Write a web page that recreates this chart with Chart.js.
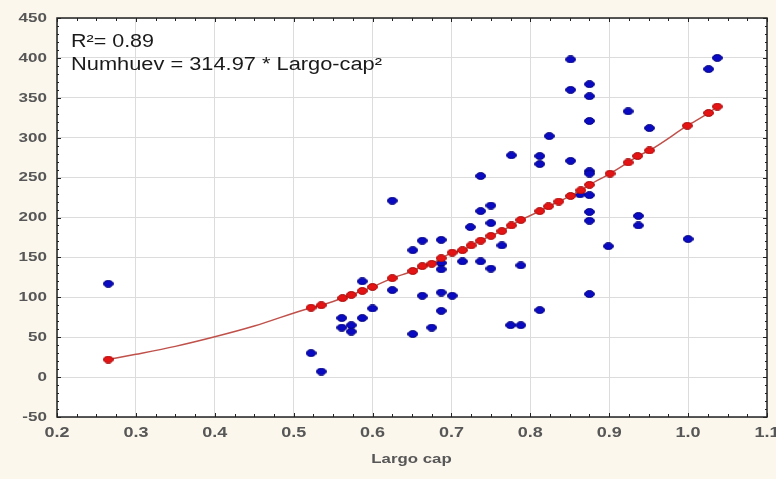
<!DOCTYPE html>
<html><head><meta charset="utf-8">
<script src="https://cdn.jsdelivr.net/npm/chart.js@4/dist/chart.umd.min.js"></script>
<style>html,body{margin:0;padding:0;background:#fbf7ec;}#wrap{width:776px;height:479px;}</style>
</head><body><div id="wrap"><canvas id="c" width="776" height="479"></canvas></div>
<script>
// Observed data (Largo cap vs Numhuev)
const blueX = [0.265,0.522,0.535,0.561,0.561,0.573,0.573,0.587,0.587,0.600,0.625,0.625,0.651,0.651,0.663,0.663,0.675,0.687,0.687,0.687,0.687,0.687,0.701,0.714,0.724,0.737,0.737,0.737,0.750,0.750,0.750,0.764,0.776,0.775,0.788,0.788,0.812,0.812,0.812,0.824,0.851,0.851,0.851,0.863,0.875,0.875,0.875,0.875,0.875,0.875,0.875,0.875,0.875,0.899,0.924,0.937,0.937,0.951,1.000,1.026,1.037];
const blueY = [117,30,7,74,62,65,57,120,74,86,221,109,159,54,171,102,62,172,143,135,106,83,102,145,188,252,208,145,215,193,136,165,278,65,140,65,277,267,84,302,398,360,271,229,367,352,321,258,255,228,207,196,104,164,333,202,190,312,173,386,400];
// Fitted values (red points)
const redX = [0.265,0.522,0.535,0.562,0.573,0.587,0.600,0.625,0.651,0.663,0.675,0.687,0.701,0.714,0.725,0.737,0.750,0.764,0.776,0.788,0.812,0.823,0.836,0.851,0.864,0.875,0.901,0.924,0.936,0.951,0.999,1.026,1.037];
const redY = [22,87,90,99,103,108,113,124,133,139,142,149,156,159,165,171,177,183,190,197,208,214,220,227,234,241,255,269,277,284,315,331,339];
const curveX = [0.265,0.30,0.35,0.40,0.45,0.522];
const curveY = [22,28.5,38.5,50.5,64,87];
const xTicks = [0.2,0.3,0.4,0.5,0.6,0.7,0.8,0.9,1.0,1.1];
const yTicks = [-50,0,50,100,150,200,250,300,350,400,450];
const xTitle = 'Largo cap';
const note1 = 'R²= 0.89';
const note2 = 'Numhuev = 314.97 * Largo-cap²';

function ellipse(fill, stroke, w, h){
  const cv = document.createElement('canvas'); cv.width = w; cv.height = h;
  const g = cv.getContext('2d');
  g.beginPath(); g.ellipse(w/2, h/2, w/2-0.6, h/2-0.6, 0, 0, Math.PI*2);
  g.fillStyle = fill; g.fill();
  g.lineWidth = 1; g.strokeStyle = stroke; g.stroke();
  return cv;
}
const blueDot = ellipse('#0a0ac2', '#06067a', 11, 8);
const redDot = ellipse('#e41414', '#a00a0a', 11, 8);

const pts = (xs, ys) => xs.map((x,i)=>({x, y: ys[i]}));
const curve = pts(curveX, curveY).concat(pts(redX.slice(2), redY.slice(2)));

const FONT = '"Liberation Sans", Arial, sans-serif';
// draw text horizontally stretched by factor sx; align: 'left' | 'right' | 'center'
function stretchText(ctx, txt, x, y, sx, align){
  const w = ctx.measureText(txt).width * sx;
  let x0 = x;
  if (align === 'right') x0 = x - w; else if (align === 'center') x0 = x - w/2;
  ctx.save();
  ctx.translate(x0, y); ctx.scale(sx, 1);
  ctx.textAlign = 'left';
  ctx.fillText(txt, 0, 0);
  ctx.restore();
}

const deco = {
  id: 'deco',
  beforeDraw(chart){
    const {ctx, chartArea: a} = chart;
    ctx.save();
    ctx.fillStyle = '#fbf7ec'; ctx.fillRect(0,0,chart.width,chart.height);
    ctx.fillStyle = '#ffffff'; ctx.fillRect(a.left, a.top, a.right-a.left, a.bottom-a.top);
    ctx.restore();
  },
  afterDraw(chart){
    const {ctx, chartArea: a, scales} = chart;
    const xs = scales.x, ys = scales.y;
    ctx.save();
    ctx.strokeStyle = '#222'; ctx.lineWidth = 1.5;
    ctx.strokeRect(a.left, a.top, a.right-a.left, a.bottom-a.top);
    ctx.lineWidth = 1;
    ctx.beginPath();
    for (let i = 0; i <= 36; i++){
      const v = 0.2 + i*0.025; const px = Math.round(xs.getPixelForValue(v)) + 0.5;
      const len = (i % 4 === 0) ? 4 : 3;
      ctx.moveTo(px, a.bottom); ctx.lineTo(px, a.bottom-len);
      ctx.moveTo(px, a.top); ctx.lineTo(px, a.top+len);
    }
    for (let v = -50; v <= 450; v += 10){
      const py = Math.round(ys.getPixelForValue(v)) + 0.5;
      const len = (v % 50 === 0) ? 4 : 2;
      ctx.moveTo(a.left, py); ctx.lineTo(a.left+len, py);
      ctx.moveTo(a.right, py); ctx.lineTo(a.right-len, py);
    }
    ctx.stroke();

    // tick labels
    ctx.fillStyle = '#575757';
    ctx.textBaseline = 'middle';
    ctx.font = 'bold 12px ' + FONT;
    yTicks.forEach(v => stretchText(ctx, String(v), a.left - 10, ys.getPixelForValue(v) + 0.5, 1.42, 'right'));
    ctx.font = 'bold 15px ' + FONT;
    xTicks.forEach(v => stretchText(ctx, v.toFixed(1), xs.getPixelForValue(v), a.bottom + 16, 1.2, 'center'));
    ctx.font = 'bold 12px ' + FONT;
    stretchText(ctx, xTitle, (a.left + a.right)/2 - 0.5, a.bottom + 43, 1.4, 'center');

    // annotations
    ctx.fillStyle = '#1a1a1a';
    ctx.textBaseline = 'alphabetic';
    ctx.font = '18px ' + FONT;
    const s1 = 83 / ctx.measureText(note1).width;
    const s2 = 311 / ctx.measureText(note2).width;
    stretchText(ctx, note1, a.left + 14, a.top + 29, s1, 'left');
    stretchText(ctx, note2, a.left + 14, a.top + 52, s2, 'left');
    ctx.restore();
  }
};

new Chart(document.getElementById('c'), {
  data: {
    datasets: [
      { type: 'scatter', data: pts(blueX, blueY), pointStyle: blueDot, pointRadius: 5, order: 3 },
      { type: 'line', data: curve, borderColor: '#c0504a', borderWidth: 1.5, pointRadius: 0, fill: false, cubicInterpolationMode: 'monotone', order: 2 },
      { type: 'scatter', data: pts(redX, redY), pointStyle: redDot, pointRadius: 5, order: 1 }
    ]
  },
  options: {
    responsive: false, animation: false,
    layout: { padding: { top: 18, right: 9, left: 0, bottom: 0 } },
    plugins: { legend: { display: false }, tooltip: { enabled: false } },
    scales: {
      x: {
        type: 'linear', min: 0.2, max: 1.1,
        afterBuildTicks: s => { s.ticks = xTicks.map(v => ({value: v})); },
        afterFit: s => { s.height = 62; },
        grid: { color: '#dcdcdc', lineWidth: 1, drawTicks: false },
        border: { display: false },
        ticks: { display: false }
      },
      y: {
        type: 'linear', min: -50, max: 450,
        afterBuildTicks: s => { s.ticks = yTicks.map(v => ({value: v})); },
        afterFit: s => { s.width = 57; },
        grid: { color: '#dcdcdc', lineWidth: 1, drawTicks: false },
        border: { display: false },
        ticks: { display: false }
      }
    }
  },
  plugins: [deco]
});
</script></body></html>
